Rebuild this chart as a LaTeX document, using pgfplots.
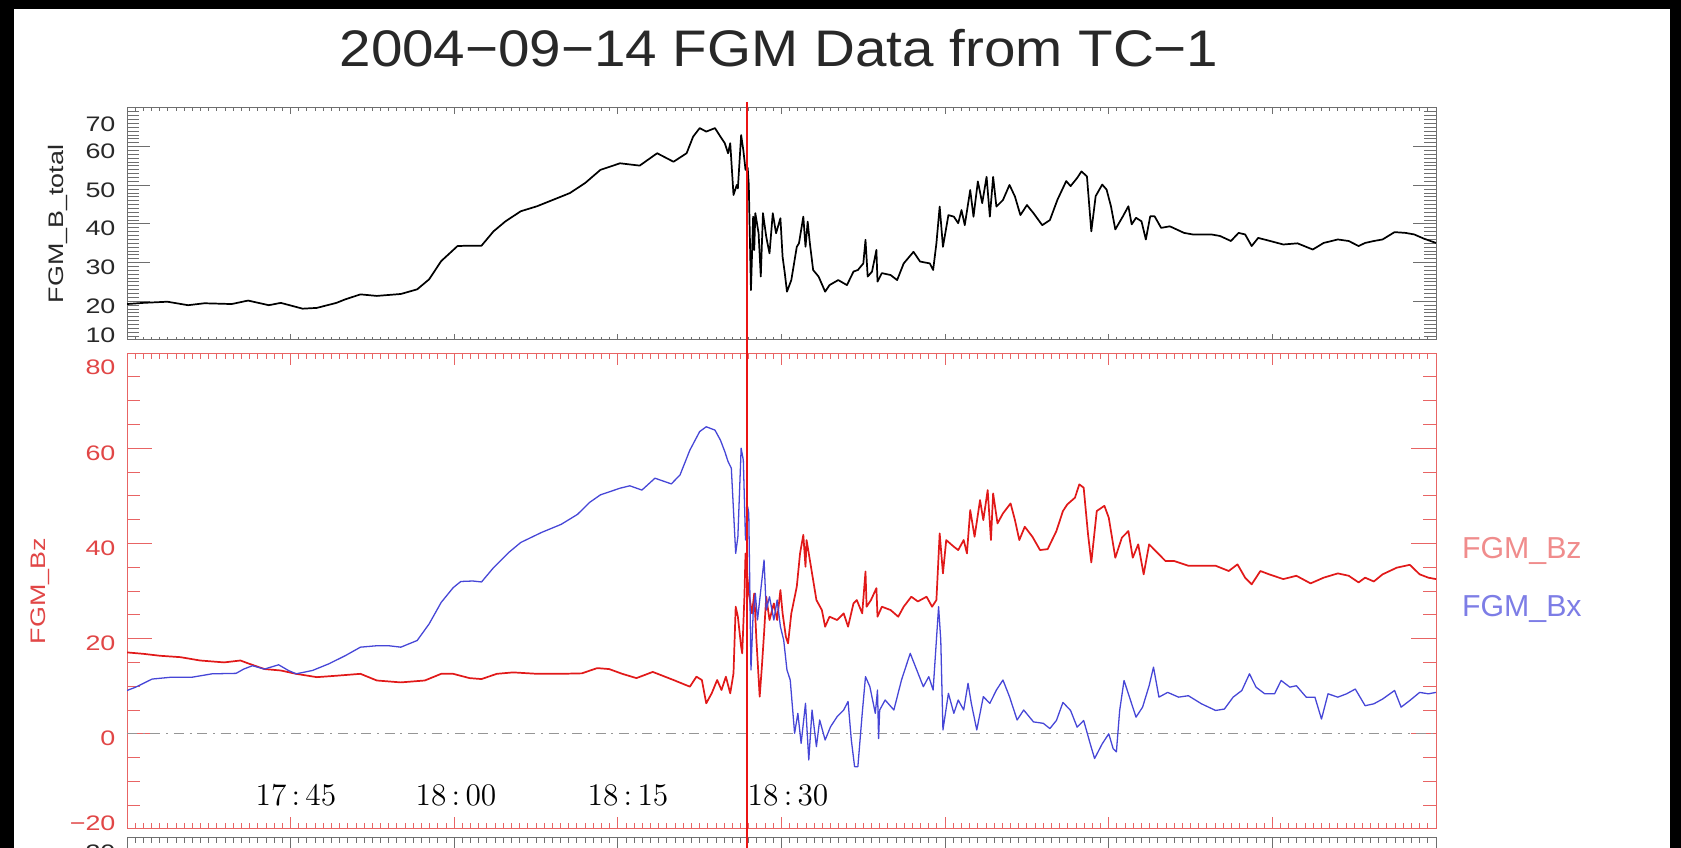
\documentclass[border=0pt]{standalone}
\usepackage{fontspec}
\usepackage{pgfplots}
\usepackage{pgfplotstable}
\pgfplotsset{compat=1.18}

\newfontfamily\idl[FakeStretch=1.28]{Liberation Sans}
\newfontfamily\idlw[FakeStretch=1.1]{Liberation Sans}
\newfontfamily\idln{Liberation Sans}

\definecolor{axred}{RGB}{232,100,100}
\definecolor{lblred}{RGB}{225,70,70}
\definecolor{bzred}{RGB}{225,25,25}
\definecolor{bxblue}{RGB}{70,70,215}
\definecolor{legred}{RGB}{240,140,140}
\definecolor{legblue}{RGB}{125,125,230}
\definecolor{axgray}{RGB}{110,110,110}
\definecolor{txtgray}{RGB}{40,40,40}
\definecolor{zgray}{RGB}{150,150,150}
\definecolor{vline}{RGB}{235,20,20}

% minutes after 17:30 UT, nT
\pgfplotstableread{
m v
0 19.3
1.5 19.6
3.7 19.9
5.6 19.0
7.1 19.5
9.6 19.3
11.1 20.2
13.0 19.0
14.1 19.6
16.1 18.1
17.4 18.3
19.2 19.6
20.0 20.5
21.4 21.8
22.9 21.4
25.1 21.9
26.6 23.1
27.7 25.7
28.8 30.4
30.3 34.3
31.4 34.4
32.5 34.4
33.6 38.1
34.7 40.7
36.1 43.3
37.6 44.6
39.1 46.3
40.6 48.0
42.0 50.6
43.4 54.0
45.2 55.7
47.0 55.1
48.6 58.3
50.1 56.1
51.3 58.3
51.9 62.6
52.5 64.8
53.1 63.9
53.9 64.8
54.4 62.6
54.8 60.9
55.1 58.3
55.3 60.9
55.6 47.5
55.9 50.1
56.0 49.2
56.3 63.0
56.5 59.1
56.7 54.0
56.9 54.5
57.0 50.1
57.2 22.9
57.4 41.9
57.5 33.3
57.6 42.8
57.9 37.6
58.1 26.4
58.3 42.8
58.6 36.7
58.9 32.4
59.2 42.8
59.5 37.6
59.9 41.5
60.1 31.5
60.3 27.3
60.5 22.5
60.9 25.5
61.4 34.1
61.6 35.0
62.0 41.9
62.2 34.1
62.4 40.6
62.6 35.0
62.9 28.1
63.4 26.4
64.0 22.5
64.4 24.2
65.2 25.5
66.0 24.2
66.6 27.7
67.0 28.1
67.5 29.8
67.7 35.9
67.9 26.4
68.3 27.7
68.7 33.3
68.8 25.1
69.2 27.3
70.0 26.8
70.6 25.5
71.2 29.8
72.1 32.8
72.7 30.3
73.6 29.8
73.9 28.1
74.2 35.0
74.5 44.5
74.8 34.1
75.3 42.3
75.8 41.9
76.2 40.2
76.5 43.6
76.8 39.7
77.3 48.8
77.6 41.9
78.0 51.0
78.4 45.4
78.8 52.2
79.1 41.9
79.4 52.2
79.7 44.5
80.3 46.2
80.9 50.1
81.4 47.1
81.9 42.3
82.5 44.9
83.1 42.8
83.9 39.7
84.6 41.0
85.3 46.3
86.1 51.1
86.5 49.8
87.1 51.9
87.5 53.6
88.0 52.3
88.4 38.1
88.8 47.2
89.4 50.2
89.8 48.9
90.2 44.6
90.6 38.6
91.3 42.0
91.8 44.6
92.1 39.9
92.5 41.6
93.0 40.7
93.4 36.0
93.8 42.0
94.2 42.0
94.8 39.0
95.6 39.4
96.9 37.7
97.7 37.3
99.4 37.3
100.2 36.9
101.2 35.6
101.9 37.7
102.5 37.3
103.1 34.3
103.7 36.4
104.8 35.6
106.0 34.7
107.3 35.0
108.7 33.4
109.7 35.1
111.0 36.0
112.0 35.6
112.9 34.3
113.5 35.1
114.3 35.6
115.1 36.0
116.2 37.9
117.2 37.7
118.0 37.3
118.9 36.2
120.0 35.1
}\btotal

\pgfplotstableread{
m v
0 9.1
0.8 9.8
2.3 11.5
4.1 11.9
6.0 11.9
7.8 12.6
10.0 12.7
10.7 13.6
11.5 14.3
12.6 13.6
13.9 14.5
14.8 13.3
15.5 12.6
17.0 13.3
18.5 14.7
20.0 16.4
21.4 18.2
22.9 18.5
24.0 18.5
25.1 18.2
26.6 19.6
27.7 23.1
28.8 27.6
29.9 30.7
30.6 32.0
31.7 32.1
32.5 31.9
33.6 34.9
35.0 38.1
36.1 40.2
38.0 42.3
39.8 44.0
41.3 46.1
42.4 48.6
43.4 50.2
45.2 51.6
46.1 52.1
47.2 51.2
48.4 53.7
49.9 52.5
50.7 54.4
51.6 59.6
52.5 63.5
53.1 64.5
53.9 63.8
54.4 61.7
54.8 59.3
55.1 57.2
55.4 55.8
55.8 37.9
56.0 41.4
56.3 60.0
56.5 57.5
56.7 40.7
56.9 47.7
57.0 46.3
57.2 13.4
57.4 25.3
57.6 29.5
57.8 23.9
58.0 28.1
58.4 36.5
58.6 26.0
58.9 28.8
59.3 23.9
59.6 28.1
59.9 22.5
60.2 19.7
60.5 13.4
60.8 11.3
61.2 0.1
61.5 4.3
61.8 -2.0
62.2 6.4
62.5 -5.5
62.8 5.0
63.2 -2.7
63.5 2.9
64.0 -1.3
64.5 1.5
65.1 3.6
65.7 5.0
66.1 6.8
66.4 -1.3
66.7 -6.9
67.0 -6.9
67.4 4.3
67.7 12.0
68.1 9.9
68.6 4.3
68.8 9.2
68.9 -1.0
69.0 5.0
69.5 7.1
70.3 5.0
71.0 11.3
71.8 16.9
72.4 13.4
73.0 9.9
73.5 12.0
73.9 9.2
74.4 26.7
74.6 19.7
74.8 0.8
75.3 8.5
75.8 4.3
76.2 7.1
76.7 5.0
77.1 10.6
77.4 6.4
77.9 0.8
78.5 7.8
79.1 6.4
79.7 9.2
80.3 11.3
80.9 7.8
81.6 2.9
82.2 5.0
83.1 2.5
84.0 2.2
84.6 1.1
85.2 2.8
85.8 6.6
86.5 4.9
87.1 1.4
87.7 2.8
88.3 -2.1
88.7 -5.2
89.4 -2.1
90.0 0.0
90.4 -3.1
90.7 -3.8
91.0 4.9
91.4 11.2
91.8 8.4
92.5 3.5
93.1 5.6
93.7 10.1
94.1 14.0
94.6 7.7
95.4 8.7
96.4 7.7
97.3 8.0
98.5 6.3
99.8 4.9
100.6 5.2
101.4 7.7
102.2 9.1
102.9 12.6
103.5 9.8
104.3 8.4
105.2 8.4
105.8 11.2
106.6 9.8
107.2 10.1
108.1 7.7
108.9 7.7
109.5 3.1
110.1 8.4
111.0 7.7
111.8 8.4
112.6 9.4
113.5 5.9
114.3 6.3
115.1 7.3
116.2 9.1
116.8 5.6
117.6 7.0
118.5 8.7
119.3 8.4
120.0 8.7
}\bx

\pgfplotstableread{
m v
0 17.1
1.5 16.8
3.0 16.4
4.9 16.1
6.7 15.4
8.9 15.0
10.4 15.4
11.1 14.8
12.6 13.6
14.1 13.3
15.5 12.6
17.4 11.9
19.2 12.2
21.4 12.6
22.9 11.2
25.1 10.8
27.3 11.2
28.8 12.6
29.9 12.6
31.4 11.7
32.5 11.5
33.9 12.6
35.4 12.9
37.6 12.6
39.8 12.6
41.7 12.7
43.1 13.8
44.2 13.6
45.4 12.6
46.7 11.7
48.2 13.0
50.1 11.3
51.6 9.9
52.2 12.0
52.7 11.3
53.1 6.4
53.6 8.5
54.1 11.3
54.5 9.2
54.9 12.0
55.3 8.5
55.6 12.7
55.8 26.7
56.0 24.6
56.3 18.3
56.4 16.9
56.6 28.8
56.7 37.9
56.9 32.3
57.0 29.5
57.3 25.3
57.5 29.5
57.7 19.7
58.0 7.8
58.2 14.1
58.4 21.1
58.6 28.8
58.9 23.9
59.3 27.4
59.6 23.9
59.9 30.2
60.1 25.3
60.4 20.4
60.6 19.0
60.9 25.3
61.4 30.9
61.7 37.9
62.0 41.8
62.2 35.1
62.3 40.7
62.6 36.5
62.9 32.3
63.2 28.1
63.7 26.0
64.0 22.5
64.4 24.6
65.1 23.9
65.7 25.3
66.1 22.5
66.6 27.4
66.9 28.1
67.4 25.3
67.7 34.1
67.8 26.7
68.2 28.1
68.7 30.6
68.8 24.6
69.2 26.7
70.0 26.0
70.7 24.6
71.2 26.7
71.9 28.8
72.5 27.8
73.3 28.8
73.8 26.7
74.2 28.1
74.5 42.1
74.8 33.7
75.1 40.7
75.8 39.3
76.2 38.6
76.7 40.7
77.0 37.9
77.3 47.0
77.7 41.4
78.2 49.1
78.5 44.9
78.9 51.2
79.2 40.7
79.4 50.5
79.8 44.2
80.3 46.3
81.0 48.4
81.4 44.9
81.8 40.7
82.3 43.5
83.0 41.4
83.7 38.6
84.4 38.8
85.2 42.6
85.8 46.8
86.2 48.2
86.9 49.6
87.3 52.4
87.7 51.7
88.1 41.9
88.4 36.0
88.9 46.8
89.6 47.9
90.0 45.4
90.6 37.0
91.2 41.2
91.8 42.6
92.2 37.0
92.7 39.8
93.2 33.5
93.7 39.8
94.3 38.4
95.2 36.3
96.0 36.3
97.3 35.3
98.5 35.3
99.8 35.3
101.0 34.2
101.8 35.6
102.5 32.8
103.1 31.4
103.9 34.2
104.7 33.5
106.0 32.5
107.2 33.2
108.5 31.6
109.7 32.8
111.0 33.7
112.0 33.2
112.9 31.8
113.5 32.8
114.3 32.0
115.1 33.5
116.4 34.9
117.6 35.5
118.5 33.5
119.3 32.8
120.0 32.5
}\bz

\pgfplotsset{
  idlpanel/.style={
    scale only axis, width=458.15pt, anchor=north west,
    xmin=0, xmax=120,
    xtick={0,15,...,120}, xticklabels={,,}, minor x tick num=19,
    tick align=inside, xtick pos=both, ytick pos=both, yticklabel pos=left,
    yticklabel style={font=\idl\fontsize{7.35}{8}\selectfont, anchor=base east,
      inner sep=0pt, xshift=-3.85pt, yshift=-4.2pt},
    ylabel style={anchor=center, font=\idl\fontsize{7.35}{8}\selectfont},
  },
}

\begin{document}
\begin{tikzpicture}
\path[use as bounding box, fill=white] (0,0) rectangle (588.35pt,-296.8pt);

% B total
\begin{axis}[idlpanel,
  at={(44.45pt,-37.8pt)}, height=81.2pt,
  ymin=10, ymax=70,
  ytick={10,20,...,70},
  yticklabels={\raisebox{3.33pt}{10},20,30,40,50,60,\raisebox{-4.03pt}{70}},
  minor y tick num=9,
  axis line style={axgray, line width=0.35pt},
  tick style={axgray, line width=0.35pt},
  major tick length=8pt, minor tick length=4.2pt,
  xtick style={/pgfplots/major tick length=2.1pt, /pgfplots/minor tick length=1.05pt},
  yticklabel style={text=txtgray},
  ylabel={FGM\_B\_total},
  ylabel style={at={(rel axis cs:-0.0527,0.5)}, text=txtgray},
]
\addplot[black, line width=0.6pt, line join=round] table[x=m, y=v] {\btotal};
\end{axis}

% Bz and Bx
\begin{axis}[idlpanel,
  at={(44.45pt,-123.55pt)}, height=166.6pt,
  ymin=-20, ymax=80,
  ytick={-20,0,...,80},
  yticklabels={\raisebox{3.68pt}{−20},0,20,40,60,\raisebox{-3.33pt}{80}},
  minor y tick num=3,
  axis line style={axred, line width=0.35pt},
  tick style={axred, line width=0.35pt},
  major tick length=8.75pt, minor tick length=4.7pt,
  xtick style={/pgfplots/major tick length=4.2pt, /pgfplots/minor tick length=2.1pt},
  yticklabel style={text=lblred},
  ylabel={FGM\_Bz},
  ylabel style={at={(rel axis cs:-0.0665,0.5)}, text=lblred},
]
\addplot[zgray, line width=0.35pt, dash pattern=on 3.5pt off 2pt on 0.7pt off 2pt]
  coordinates {(0,0) (120,0)};
\addplot[bzred, line width=0.6pt, line join=round] table[x=m, y=v] {\bz};
\addplot[bxblue, line width=0.45pt, line join=round] table[x=m, y=v] {\bx};
\node[anchor=base, font=\fontsize{11}{13}\selectfont] at (axis cs:15.49,-14.96) {17\,:\,45};
\node[anchor=base, font=\fontsize{11}{13}\selectfont] at (axis cs:30.16,-14.96) {18\,:\,00};
\node[anchor=base, font=\fontsize{11}{13}\selectfont] at (axis cs:45.93,-14.96) {18\,:\,15};
\node[anchor=base, font=\fontsize{11}{13}\selectfont] at (axis cs:60.6,-14.96) {18\,:\,30};
\end{axis}

% next panel, cut off by the page edge
\begin{axis}[idlpanel,
  at={(44.45pt,-292.95pt)}, height=166.6pt,
  ymin=-90, ymax=-30,
  ytick={-90,-60,-30},
  yticklabels={,,\raisebox{-3.5pt}{−30}},
  minor y tick num=4,
  axis line style={axgray, line width=0.35pt},
  tick style={axgray, line width=0.35pt},
  major tick length=8pt, minor tick length=4.2pt,
  xtick style={/pgfplots/major tick length=4.2pt, /pgfplots/minor tick length=2.1pt},
  yticklabel style={text=txtgray},
]
\end{axis}

\node[anchor=base, text=txtgray, font=\idlw\fontsize{18}{20}\selectfont]
  at (272.65pt,-23.275pt) {2004−09−14 FGM Data from TC−1};
\node[anchor=west, text=legred, font=\idln\fontsize{10.6}{12}\selectfont]
  at (508.2pt,-192.85pt) {FGM\_Bz};
\node[anchor=west, text=legblue, font=\idln\fontsize{10.6}{12}\selectfont]
  at (508.2pt,-213.15pt) {FGM\_Bx};

\draw[vline, line width=0.7pt] (261.45pt,-35.7pt) -- (261.45pt,-296.8pt);

\fill[black] (0,0) rectangle (4.9pt,-296.8pt);
\fill[black] (584.5pt,0) rectangle (588.35pt,-296.8pt);
\fill[black] (0,0) rectangle (588.35pt,-3.15pt);
\end{tikzpicture}
\end{document}
